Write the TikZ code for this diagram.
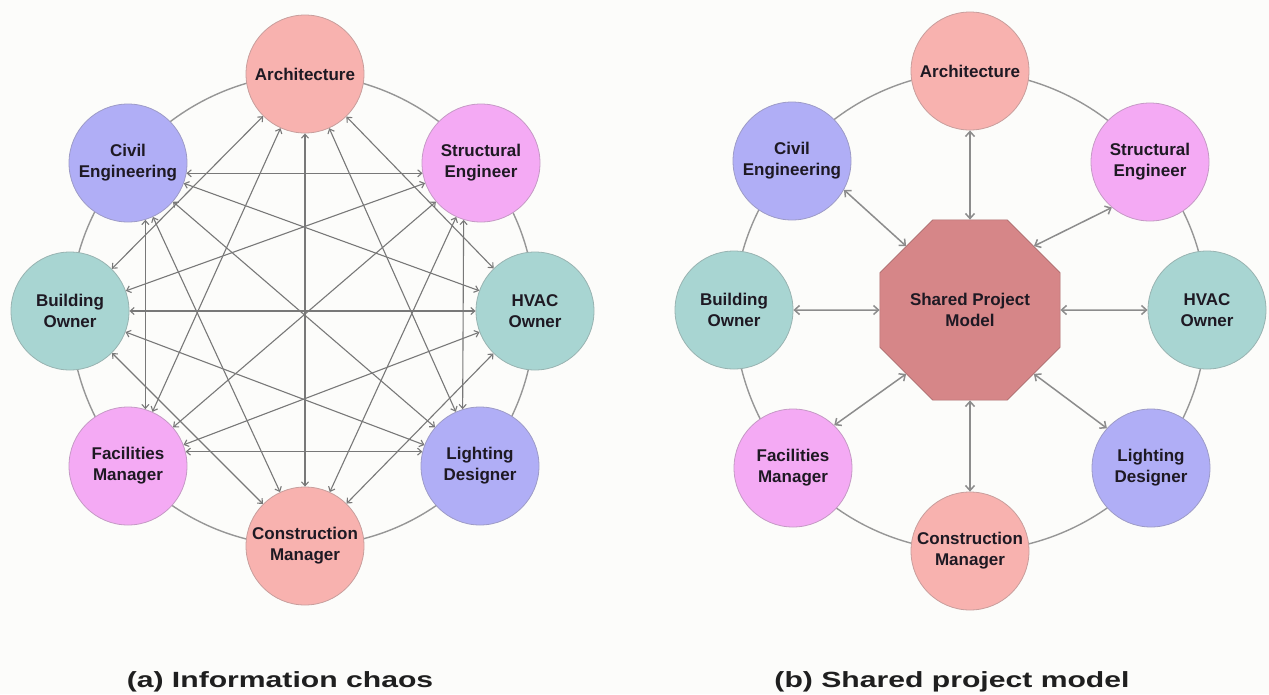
\documentclass[tikz,border=0pt]{standalone}
\usepackage{graphicx}
\usepackage{fontspec}
\setmainfont{Liberation Sans}
\usetikzlibrary{arrows.meta,shapes.geometric}

\definecolor{bgc}{RGB}{252,252,250}
\definecolor{cArch}{RGB}{248,178,175}
\definecolor{cCivil}{RGB}{176,174,246}
\definecolor{cStruct}{RGB}{244,170,244}
\definecolor{cOwner}{RGB}{168,213,210}
\definecolor{cOct}{RGB}{214,134,136}
\definecolor{ringc}{RGB}{150,150,150}
\definecolor{linec}{RGB}{120,120,120}
\definecolor{hubline}{RGB}{140,140,140}
\definecolor{txt}{RGB}{30,25,35}

\pgfdeclarelayer{back}
\pgfsetlayers{back,main}

\begin{document}
\begin{tikzpicture}[x=1pt,y=-1pt,
  party/.style={circle, minimum size=118pt, inner sep=0pt, fill=#1, draw=#1!60!gray,
    line width=0.8pt, align=center, text=txt,
    font=\fontsize{17}{21}\selectfont\bfseries},
  hub/.style={regular polygon, regular polygon sides=8, minimum size=195pt, inner sep=0pt,
    fill=cOct, draw=cOct!80!black, line width=0.6pt, align=center, text=txt,
    font=\fontsize{17}{21}\selectfont\bfseries},
  ring/.style={draw=ringc, line width=1.4pt, looseness=0.89},
  link/.style={draw=linec, line width=1.1pt,
    {Straight Barb[length=4pt,width=7pt]}-{Straight Barb[length=4pt,width=7pt]}},
  spoke/.style={draw=hubline, line width=1.5pt,
    {Straight Barb[length=5pt,width=9pt]}-{Straight Barb[length=5pt,width=9pt]}},
  caption/.style={anchor=base, text=black!88, font=\fontsize{22}{26}\selectfont\bfseries}
]
\begin{pgfonlayer}{back}
\fill[bgc] (0,0) rectangle (1269,694);
\end{pgfonlayer}
\useasboundingbox (0,0) rectangle (1269,694);

% ---------------- (a) Information chaos ----------------
\node[party=cArch]   (a1) at (305,74)  {Architecture};
\node[party=cStruct] (a2) at (481,163) {Structural\\Engineer};
\node[party=cOwner]  (a3) at (535,311) {HVAC\\Owner};
\node[party=cCivil]  (a4) at (480,466) {Lighting\\Designer};
\node[party=cArch]   (a5) at (305,546) {Construction\\Manager};
\node[party=cStruct] (a6) at (128,466) {Facilities\\Manager};
\node[party=cOwner]  (a7) at (70,311)  {Building\\Owner};
\node[party=cCivil]  (a8) at (128,163) {Civil\\Engineering};

\begin{pgfonlayer}{back}
\draw[ring] (a1.center) to[bend left=25] (a2.center);
\draw[ring] (a2.center) to[bend left=20] (a3.center);
\draw[ring] (a3.center) to[bend left=20] (a4.center);
\draw[ring] (a4.center) to[bend left=25] (a5.center);
\draw[ring] (a5.center) to[bend left=25] (a6.center);
\draw[ring] (a6.center) to[bend left=20] (a7.center);
\draw[ring] (a7.center) to[bend left=20] (a8.center);
\draw[ring] (a8.center) to[bend left=25] (a1.center);
\end{pgfonlayer}

\draw[link] (a1) -- (a3);
\draw[link] (a1) -- (a4);
\draw[link] (a1) -- (a5);
\draw[link] (a1) -- (a6);
\draw[link] (a1) -- (a7);
\draw[link] (a2.-107) -- (a4.107);
\draw[link] (a2) -- (a5);
\draw[link] (a2) -- (a6);
\draw[link] (a2) -- (a7);
\draw[link] (a8.-10) -- (a2.190);
\draw[link] (a3) -- (a5);
\draw[link] (a3) -- (a6);
\draw[link] (a3) -- (a7);
\draw[link] (a3) -- (a8);
\draw[link] (a6.14) -- (a4.166);
\draw[link] (a4) -- (a7);
\draw[link] (a4) -- (a8);
\draw[link] (a5) -- (a7);
\draw[link] (a5) -- (a8);
\draw[link] (a8.-73) -- (a6.73);

\node[caption] (capa) at (280,687) {\scalebox{1.37}[1]{(a) Information chaos}};

% ---------------- (b) Shared project model ----------------
\node[party=cArch]   (b1) at (970,71)   {Architecture};
\node[party=cStruct] (b2) at (1150,162) {Structural\\Engineer};
\node[party=cOwner]  (b3) at (1207,310) {HVAC\\Owner};
\node[party=cCivil]  (b4) at (1151,468) {Lighting\\Designer};
\node[party=cArch]   (b5) at (970,551)  {Construction\\Manager};
\node[party=cStruct] (b6) at (793,468)  {Facilities\\Manager};
\node[party=cOwner]  (b7) at (734,310)  {Building\\Owner};
\node[party=cCivil]  (b8) at (792,161)  {Civil\\Engineering};
\node[hub] (m) at (970,310) {Shared Project\\Model};

\begin{pgfonlayer}{back}
\draw[ring] (b1.center) to[bend left=25] (b2.center);
\draw[ring] (b2.center) to[bend left=20] (b3.center);
\draw[ring] (b3.center) to[bend left=20] (b4.center);
\draw[ring] (b4.center) to[bend left=25] (b5.center);
\draw[ring] (b5.center) to[bend left=25] (b6.center);
\draw[ring] (b6.center) to[bend left=20] (b7.center);
\draw[ring] (b7.center) to[bend left=20] (b8.center);
\draw[ring] (b8.center) to[bend left=25] (b1.center);
\end{pgfonlayer}

\draw[spoke] (m.90)   -- (b1.-90);
\draw[spoke] (m.45)   -- (b2.-130);
\draw[spoke] (m.0)    -- (b3.180);
\draw[spoke] (m.-45)  -- (b4.138);
\draw[spoke] (m.-90)  -- (b5.90);
\draw[spoke] (m.-135) -- (b6.46);
\draw[spoke] (m.180)  -- (b7.0);
\draw[spoke] (m.135)  -- (b8.-29);

\node[caption] (capb) at (952,687) {\scalebox{1.37}[1]{(b) Shared project model}};
\end{tikzpicture}
\end{document}
